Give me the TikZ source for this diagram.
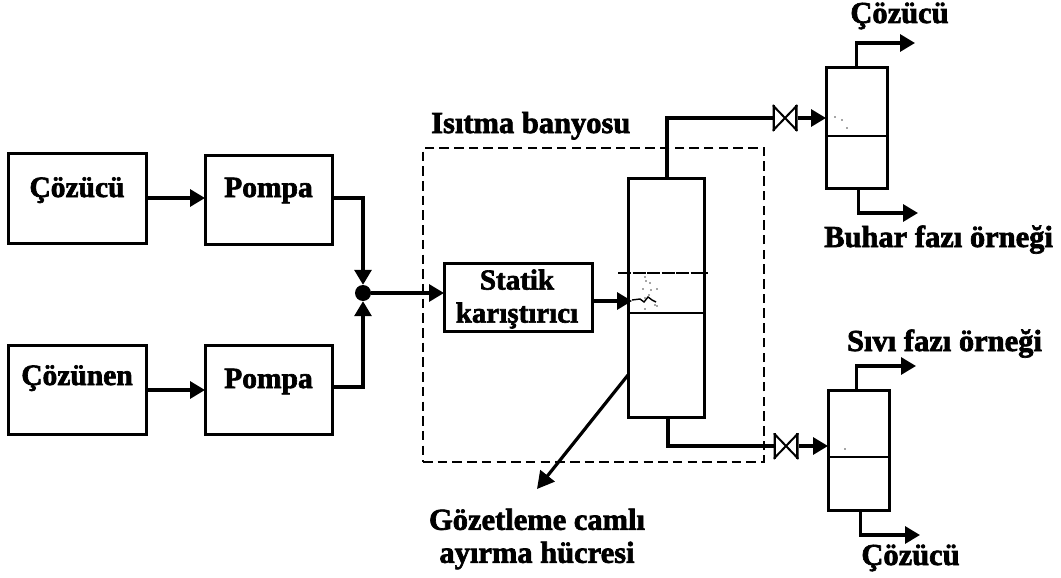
\documentclass[tikz,border=0pt]{standalone}
\usepackage{fontspec}
\setmainfont[BoldFeatures={FakeBold=2.2}]{Liberation Serif}
\usetikzlibrary{arrows.meta,positioning,calc}
\tikzset{
  x=1pt,y=-1pt,
  box/.style={draw=black,line width=3pt,fill=white,outer sep=0pt,inner sep=0pt,align=center},
  lbl/.style={font=\fontsize{30.5}{33}\selectfont\bfseries,inner sep=0pt,align=center},
  boxtext/.style={font=\fontsize{29.5}{33}\selectfont\bfseries,text height=20pt,text depth=#1},
  pipe/.style={draw=black,line width=3.2pt},
  flow/.style={pipe,-{Triangle[length=15pt,width=17pt]}},
  valve/.style={outer sep=0pt,inner sep=0pt,minimum width=25pt,minimum height=26pt,
    path picture={
      \draw[line width=2pt] (path picture bounding box.north west)--(path picture bounding box.south east)
        (path picture bounding box.south west)--(path picture bounding box.north east);
      \draw[line width=4.5pt] (path picture bounding box.north west)--(path picture bounding box.south west)
        (path picture bounding box.north east)--(path picture bounding box.south east);
    }},
  fleck/.style={fill=black!70,circle,inner sep=0pt,minimum size=1.8pt},
}
\begin{document}
\begin{tikzpicture}
\useasboundingbox (0,0) rectangle (1061,578);
% main boxes
\node[box,minimum width=138pt,minimum height=90pt,boxtext=22pt] (solvent) at (77,198) {Çözücü};
\node[box,minimum width=127pt,minimum height=89pt,boxtext=25pt] (pump1) at (268.5,199.5) {Pompa};
\node[box,minimum width=138pt,minimum height=89pt,boxtext=29pt] (solute) at (77,389.5) {Çözünen};
\node[box,minimum width=127pt,minimum height=89pt,boxtext=23pt] (pump2) at (268.5,389.5) {Pompa};
\node[fill=black,circle,inner sep=0pt,minimum size=16pt] (mix) at (363,293) {};
% heating bath
\node[draw=black,line width=2.8pt,dash pattern=on 9.5pt off 5.2pt,outer sep=0pt,minimum width=341pt,minimum height=314pt] (bath) at (593.5,305) {};
\node[lbl,anchor=base west] (bathlbl) at (431,133) {Isıtma banyosu};
% static mixer
\node[box,minimum width=148pt,minimum height=68pt] (static) at (518,297) {};
\node[font=\fontsize{29}{33}\selectfont\bfseries,inner sep=0pt,align=center] (staticlbl) at (517,299) {Statik\\karıştırıcı};
% cell
\node[box,minimum width=76pt,minimum height=239pt] (cell) at (666,297.5) {};
\coordinate (liqL) at (628,313); \coordinate (liqR) at (704,313);
\draw[line width=2.4pt] (liqL)--(liqR);
\coordinate (topL) at (618,273); \coordinate (topR) at (708,273);
\draw[line width=2.2pt,dash pattern=on 13pt off 1.5pt] (topL)--(topR);
% separators
\node[box,minimum width=61pt,minimum height=120pt] (sep1) at (856.5,128) {};
\coordinate (s1L) at (826,136); \coordinate (s1R) at (887,136);
\draw[line width=2.4pt] (s1L)--(s1R);
\node[box,minimum width=61pt,minimum height=120pt] (sep2) at (858.5,450) {};
\coordinate (s2L) at (828,457); \coordinate (s2R) at (889,457);
\draw[line width=2.4pt] (s2L)--(s2R);
% valves
\node[valve] (v1) at (785,118) {};
\node[valve] (v2) at (786,446) {};
% connectors
\draw[flow] (solvent.east |- 0,198) -- (pump1.west |- 0,198);
\draw[flow] (solute.east |- 0,390) -- (pump2.west |- 0,390);
\draw[flow] (pump1.east |- 0,198) -| (mix.north);
\draw[flow] (pump2.east |- 0,387) -| (mix.south);
\draw[flow] (mix.east) -- (static.west |- mix.east);
\coordinate (stin) at (632,301);
\draw[flow] (static.east |- stin) -- (stin);
\draw[pipe] (cell.north) ++(1,0) coordinate (c1) -- (c1 |- v1.west) -- (v1.west);
\draw[flow] (v1.east) -- (sep1.west |- v1.east);
\draw[pipe] (cell.south) ++(2,0) coordinate (c2) -- (c2 |- v2.west) -- (v2.west);
\draw[flow] (v2.east) -- (sep2.west |- v2.east);
\coordinate (o1) at (915,43); \coordinate (o2) at (918,213);
\coordinate (o3) at (916,366); \coordinate (o4) at (920,535);
\draw[flow] (sep1.north) -- (sep1.north |- o1) -- (o1);
\draw[flow] (sep1.south) ++(2,0) coordinate (b1) -- (b1 |- o2) -- (o2);
\draw[flow] (sep2.north) ++(-2,0) coordinate (b2) -- (b2 |- o3) -- (o3);
\draw[flow] (sep2.south) ++(2,0) coordinate (b3) -- (b3 |- o4) -- (o4);
\coordinate (cellpt) at (628,375); \coordinate (ptr) at (537,489);
\draw[pipe,-{Triangle[length=17pt,width=18pt]}] (cellpt) -- (ptr);
% flow wisp and specks
\draw[line width=1.4pt] (632,300)--(640,299)--(644,302)--(648,297)--(652,300)--(656,302);
\foreach \i/\a/\b in {1/645/277,2/646/281,3/650/283,4/651/290,5/643/289,6/657/289,7/649/295,8/645/298,9/655/305,10/645/309,11/657/306,12/835/117,13/842/120,14/847/128,15/845/449}
  \node[fleck] (sp\i) at (\a,\b) {};
% labels
\node[lbl,anchor=base] (t1) at (899.5,23) {Çözücü};
\node[lbl,anchor=base west] (t2) at (824,247) {Buhar fazı örneği};
\node[lbl,anchor=base] (t3) at (944.5,351) {Sıvı fazı örneği};
\node[lbl,anchor=base] (t4) at (910.5,565) {Çözücü};
\node[lbl] (t5) at (537,539) {Gözetleme camlı\\ayırma hücresi};
\end{tikzpicture}
\end{document}
